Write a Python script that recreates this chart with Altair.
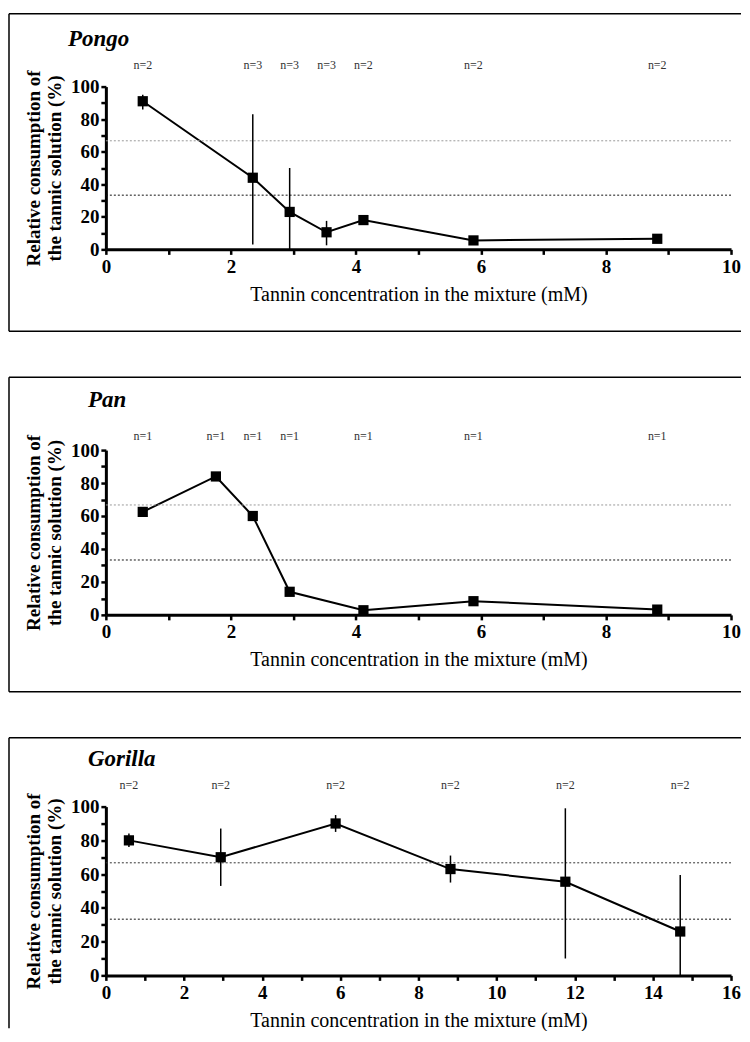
import altair as alt
import pandas as pd

# ---- data ----
pongo_conc = [0.59, 2.35, 2.94, 3.53, 4.12, 5.88, 8.82]
pongo_mean = [91, 44, 23, 10.5, 18, 5.5, 6.5]
pongo_lo = [86, 3, 0, 2.5, 18, 5.5, 6.5]
pongo_hi = [95, 83, 50, 17.5, 18, 5.5, 6.5]
pongo_n = ["n=2", "n=3", "n=3", "n=3", "n=2", "n=2", "n=2"]

pan_conc = [0.59, 1.76, 2.35, 2.94, 4.12, 5.88, 8.82]
pan_mean = [62.5, 84, 60, 14, 2.8, 8.3, 3.2]
pan_lo = pan_mean
pan_hi = pan_mean
pan_n = ["n=1"] * 7

gorilla_conc = [0.59, 2.94, 5.88, 8.82, 11.76, 14.7]
gorilla_mean = [80, 70, 90, 63, 55.5, 26]
gorilla_lo = [76, 53, 85, 55, 10, 0]
gorilla_hi = [84, 87, 95, 71, 99, 59.5]
gorilla_n = ["n=2"] * 6

ref_lines = [66.7, 33.3]

FONT = "Liberation Serif"
W = 626
BOX_L = -97
BOX_R = 636


def panel(title, conc, mean, lo, hi, ns, xmax, height, box_top, box_bottom,
          draw_bottom, title_x, title_y, n_y, upper_color):
    df = pd.DataFrame({"conc": conc, "mean": mean, "lo": lo, "hi": hi, "n": ns})
    xs = alt.Scale(domain=[0, xmax], nice=False, zero=True)
    ys = alt.Scale(domain=[0, 100], nice=False)
    xaxis = alt.Axis(
        values=list(range(0, xmax + 1)),
        labelExpr="datum.value % 2 == 0 ? datum.label : ''",
        labelOverlap=False, labelFlush=False,
        title="Tannin concentration in the mixture (mM)",
        titleFont=FONT, labelFont=FONT,
        titleFontSize=20, titleFontWeight="normal", titlePadding=8,
        labelFontSize=19, labelFontWeight="bold", labelPadding=3,
        tickSize=5, tickWidth=2.5, domainWidth=3,
    )
    yaxis = alt.Axis(
        values=list(range(0, 101, 10)),
        labelExpr="datum.value % 20 == 0 ? datum.label : ''",
        labelOverlap=False, labelFlush=False,
        title=["Relative consumption of", "the tannic solution (%)"],
        titleFont=FONT, labelFont=FONT,
        titleFontSize=19, titleFontWeight="bold", titleLineHeight=21,
        titlePadding=6,
        labelFontSize=19, labelFontWeight="bold", labelPadding=2,
        tickSize=5, tickWidth=2.5, domainWidth=3,
    )
    x = alt.X("conc:Q", scale=xs, axis=xaxis)
    y = alt.Y("mean:Q", scale=ys, axis=yaxis)
    one = pd.DataFrame({"a": [0]})
    frame = []
    frame.append(alt.Chart(one).mark_rule(color="black", strokeWidth=1.5).encode(
        x=alt.value(BOX_L), x2=alt.value(BOX_R), y=alt.value(box_top), y2=alt.value(box_top)))
    frame.append(alt.Chart(one).mark_rule(color="black", strokeWidth=1.5).encode(
        x=alt.value(BOX_L), x2=alt.value(BOX_L), y=alt.value(box_top), y2=alt.value(box_bottom)))
    if draw_bottom:
        frame.append(alt.Chart(one).mark_rule(color="black", strokeWidth=1.5).encode(
            x=alt.value(BOX_L), x2=alt.value(BOX_R), y=alt.value(box_bottom), y2=alt.value(box_bottom)))
    rdf = pd.DataFrame({"v": ref_lines, "c": [upper_color, "#111111"]})
    rules = alt.Chart(rdf).mark_rule(strokeDash=[2, 2], strokeWidth=1).encode(
        y=alt.Y("v:Q", scale=ys, axis=yaxis), color=alt.Color("c:N", scale=None)
    )
    base = alt.Chart(df)
    line = base.mark_line(color="black", strokeWidth=2).encode(x=x, y=y)
    err = base.mark_rule(color="black", strokeWidth=1.5).encode(
        x=x, y=alt.Y("lo:Q", scale=ys, axis=yaxis), y2="hi:Q"
    )
    pts = base.mark_square(color="black", size=105, opacity=1).encode(x=x, y=y)
    nlab = base.mark_text(font=FONT, fontSize=12, color="#333333").encode(
        x=x, y=alt.value(n_y), text="n:N"
    )
    ttl = alt.Chart(one).mark_text(
        font=FONT, fontSize=23, fontStyle="italic", fontWeight="bold",
        align="left", baseline="middle", color="black",
    ).encode(x=alt.value(title_x), y=alt.value(title_y), text=alt.value(title))
    return alt.layer(line, *frame, rules, err, pts, nlab, ttl).properties(width=W, height=height)


p1 = panel("Pongo", pongo_conc, pongo_mean, pongo_lo, pongo_hi, pongo_n, 10, 163,
           -73, 245, True, -38, -48, -22, "#999999")
p2 = panel("Pan", pan_conc, pan_mean, pan_lo, pan_hi, pan_n, 10, 165,
           -73, 242, True, -18, -50, -14, "#999999")
p3 = panel("Gorilla", gorilla_conc, gorilla_mean, gorilla_lo, gorilla_hi, gorilla_n, 16, 169,
           -69, 222, False, -18, -48, -22, "#333333")

chart = alt.vconcat(p1, p2, p3, spacing=44).properties(
    padding={"left": 0, "top": 4, "right": 0, "bottom": 0}
).configure(font=FONT).configure_view(strokeWidth=0).configure_axis(
    grid=False, domainColor="black", tickColor="black", labelColor="black",
    titleColor="black", labelFont=FONT, titleFont=FONT,
)

chart.save("out.html", embed_options={"renderer": "svg", "actions": False})
